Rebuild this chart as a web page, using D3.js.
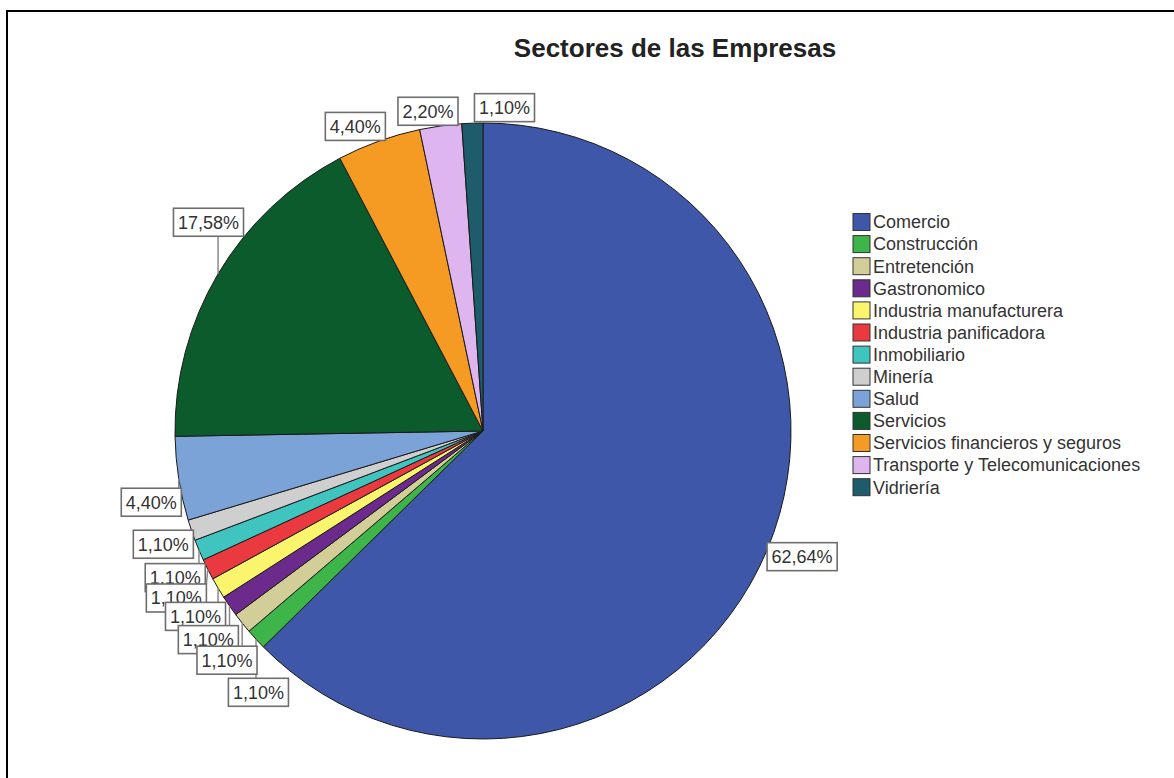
<!DOCTYPE html>
<html>
<head>
<meta charset="utf-8">
<script src="https://cdn.jsdelivr.net/npm/d3@7"></script>
<style>
    html, body { margin: 0; padding: 0; background: #fff; }
    svg { display: block; font-family: "Liberation Sans", Arial, sans-serif; }
</style>
</head>
<body>
<div id="chart"></div>
<script>
const sectors = [
    "Comercio", "Construcción", "Entretención", "Gastronomico",
    "Industria manufacturera", "Industria panificadora", "Inmobiliario",
    "Minería", "Salud", "Servicios", "Servicios financieros y seguros",
    "Transporte y Telecomunicaciones", "Vidriería"
];
// número de empresas por sector (n = 91)
const counts = [57, 1, 1, 1, 1, 1, 1, 1, 4, 16, 4, 2, 1];
const colors = [
    "#3f57a9", "#3db549", "#d3ce97", "#6b2a8c", "#faf56c", "#eb3a3f", "#3fc4bf",
    "#cfcfcf", "#7ba3d8", "#0c5b2c", "#f59b24", "#deb5ee", "#1e5c6b"
];
// ajuste manual de las etiquetas para que no se pisen: giro (grados) y separación extra (px)
const labelShift = [0, -8.1, -4.6, -3.9, -3.4, -3, -3.8, -1.6, -3.8, 8.3, -2, -1.4, 5.6];
const labelPush = [-1, 12, 9, 9, 5, 11, 2, -1, -2, 6, 2, -2, -2];

const W = 1174, H = 778;
const cx = 483, cy = 431, r = 308;
const ra = r + 4;
const boxH = 28;

const esLocale = d3.formatLocale({decimal: ",", thousands: ".", grouping: [3], currency: ["", " €"]});
const pct = esLocale.format(".2%");
const total = d3.sum(counts);

const svg = d3.select("#chart")
    .append("svg")
    .attr("width", W)
    .attr("height", H);

// marco (solo borde superior e izquierdo visibles)
svg.append("path")
    .attr("d", `M7,${H} L7,11 L${W},11`)
    .attr("fill", "none")
    .attr("stroke", "#000")
    .attr("stroke-width", 2);

svg.append("text")
    .attr("x", 675)
    .attr("y", 57)
    .attr("text-anchor", "middle")
    .attr("font-size", 26)
    .attr("font-weight", "bold")
    .attr("fill", "#222")
    .text("Sectores de las Empresas");

const pie = d3.pie().sort(null).value(d => d);
const arcs = pie(counts);
const arc = d3.arc().innerRadius(0).outerRadius(r);

const pieG = svg.append("g").attr("transform", `translate(${cx},${cy})`);
pieG.selectAll("path")
    .data(arcs)
    .enter()
    .append("path")
    .attr("d", arc)
    .attr("fill", (d, i) => colors[i])
    .attr("stroke", "#1a1a1a")
    .attr("stroke-width", 1);

// etiquetas
const lineG = svg.append("g");
const labelG = svg.append("g");
const order = d3.range(arcs.length).reverse();

order.forEach(i => {
    const a = arcs[i];
    const m0 = (a.startAngle + a.endAngle) / 2;
    const m = m0 + labelShift[i] * Math.PI / 180;
    const rr = ra + labelPush[i];
    const g = labelG.append("g");
    const rect = g.append("rect");
    const txt = g.append("text")
        .attr("font-size", 18)
        .attr("fill", "#333")
        .attr("text-anchor", "middle")
        .text(pct(counts[i] / total));
    const w = txt.node().getComputedTextLength() + 9;
    const ax = cx + rr * Math.sin(m), ay = cy - rr * Math.cos(m);
    const bx = ax + w / 2 * Math.sin(m), by = ay - boxH / 2 * Math.cos(m);
    rect.attr("x", bx - w / 2)
        .attr("y", by - boxH / 2)
        .attr("width", w)
        .attr("height", boxH)
        .attr("fill", "#fff")
        .attr("stroke", "#6e6e6e")
        .attr("stroke-width", 1.6);
    txt.attr("x", bx).attr("y", by + 6.5);

    // línea guía desde el borde del sector hasta la caja
    const px = cx + r * Math.sin(m0), py = cy - r * Math.cos(m0);
    const qx = Math.max(bx - w / 2, Math.min(bx + w / 2, px));
    const qy = Math.max(by - boxH / 2, Math.min(by + boxH / 2, py));
    if (Math.hypot(qx - px, qy - py) > 4) {
        lineG.append("line")
            .attr("x1", px).attr("y1", py)
            .attr("x2", qx).attr("y2", qy)
            .attr("stroke", "#8a8a8a")
            .attr("stroke-width", 1.5);
    }
});

// leyenda
const legend = svg.append("g").attr("transform", "translate(853,222)");
const rows = legend.selectAll("g")
    .data(sectors)
    .enter()
    .append("g")
    .attr("transform", (d, i) => `translate(0,${i * 22.1})`);
rows.append("rect")
    .attr("x", 0)
    .attr("y", -8.5)
    .attr("width", 17)
    .attr("height", 17)
    .attr("fill", (d, i) => colors[i])
    .attr("stroke", "#333")
    .attr("stroke-width", 1);
rows.append("text")
    .attr("x", 20)
    .attr("dy", "0.35em")
    .attr("font-size", 18)
    .attr("fill", "#333")
    .text(d => d);
</script>
</body>
</html>
